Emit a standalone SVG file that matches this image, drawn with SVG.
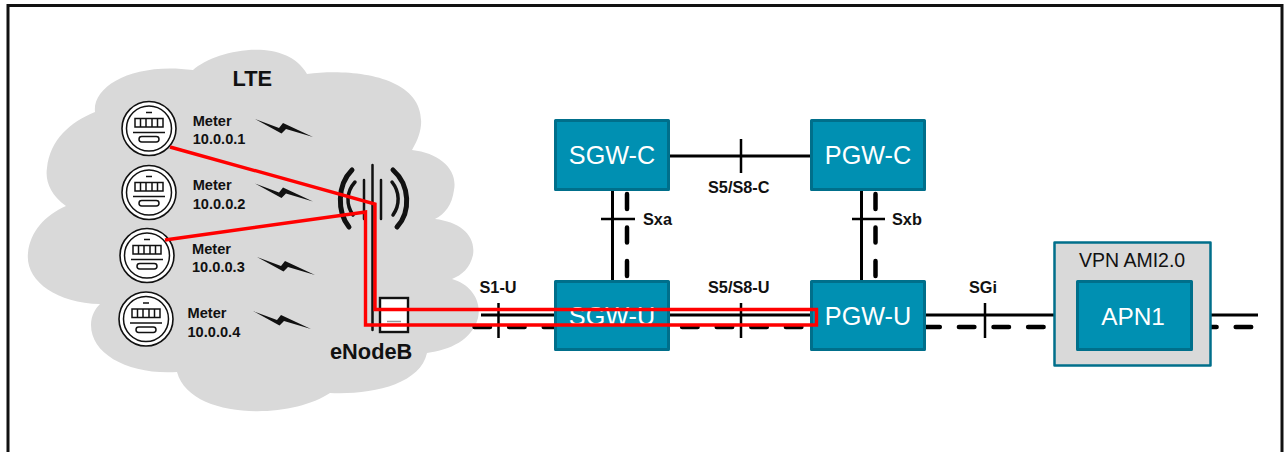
<svg xmlns="http://www.w3.org/2000/svg" xmlns:xlink="http://www.w3.org/1999/xlink" width="1286" height="452" viewBox="0 0 1286 452">
<style>
.b{font-family:"Liberation Sans",Arial,sans-serif;font-weight:700;fill:#111}
.m{font-size:14.6px}.l{font-size:16.300px}.h{font-size:21.800px}
.w{font-family:"Liberation Sans",Arial,sans-serif;font-size:25.200px;fill:#fff;text-anchor:middle}
.box{fill:#0090b2;stroke:#006f8b;stroke-width:3;stroke-linejoin:round}
.s{fill:none;stroke:#000;stroke-width:3}
.t{fill:none;stroke:#000;stroke-width:2.500}
.d{fill:none;stroke:#000;stroke-width:4.500;stroke-linecap:round}
.r{fill:none;stroke:#f00;stroke-width:3.400;stroke-linejoin:miter}
.k{fill:none;stroke:#111;stroke-width:1.500}
.a{fill:none;stroke:#111;stroke-linecap:round}
</style>
<defs>
<g id="meter">
<circle r="27" fill="#fff" stroke="#111" stroke-width="1.600"/>
<circle r="22.500" fill="#fff" stroke="#111" stroke-width="1.500"/>
<path class="k" d="M-3-16H3M-16 4H16M-8.500-10V-1.500M-3-10V-1.500M3-10V-1.500M8.500-10V-1.500"/>
<rect class="k" x="-14" y="-10" width="28" height="8.500"/>
<rect class="k" x="-10" y="8" width="20" height="5.500" rx="2.700"/>
</g>
<path id="bolt" d="M255 119L279 128L283 123L313 137L286 129L281.500 133.500Z" fill="#111"/>
</defs>
<rect x="8" y="5.500" width="1274" height="470" fill="#fff" stroke="#111" stroke-width="3"/>
<g id="cloud">
<path d="M193 70C215 50 285 35 307 74C350 68 425 75 421 125C420 135 416 143 412 150C440 153 458 170 454 190C452 205 445 214 435 219C460 222 476 235 473 255C470 268 462 275 452 279C470 284 482 300 478 318C472 340 450 350 427 353C420 385 370 395 330 393C290 420 190 420 177 372C130 375 91 355 91 325C91 315 96 308 100 304C55 303 25 280 28 253C30 232 45 215 66 206C50 195 45 180 47 168C50 140 70 122 95 112C92 85 135 62 193 70Z" fill="#d9d9d9"/>
<text class="b h" x="232.500" y="86">LTE</text>
</g>
<g id="connectors">
<path class="s" d="M481 315H1258M669 156H811M612.500 190V281M861.500 190V281"/>
<path class="d" d="M474.500 327H1252" stroke-dasharray="15.500 19.100"/>
<path class="d" d="M627 194V280" stroke-dasharray="15 18.500"/>
<path class="d" d="M875.500 194V280" stroke-dasharray="15 18.500"/>
<path class="t" d="M498.500 303V338M741 303V338M985 303V338M741 139V173M601 219H635M852 219H885"/>
</g>
<g id="meter1"><use href="#meter" x="149" y="128.500"/><use href="#bolt"/><text class="b m" x="192.700" y="126">Meter</text><text class="b m" x="192.700" y="144">10.0.0.1</text></g>
<g id="meter2"><use href="#meter" x="149" y="192.500"/><use href="#bolt" y="64.500"/><text class="b m" x="192.700" y="190">Meter</text><text class="b m" x="192.700" y="209">10.0.0.2</text></g>
<g id="meter3"><use href="#meter" x="147" y="255.500"/><use href="#bolt" x="2" y="138"/><text class="b m" x="192" y="254">Meter</text><text class="b m" x="192" y="272">10.0.0.3</text></g>
<g id="meter4"><use href="#meter" x="146" y="319"/><use href="#bolt" x="-2" y="192"/><text class="b m" x="187.500" y="318">Meter</text><text class="b m" x="187.500" y="337">10.0.0.4</text></g>
<g id="enodeb">
<path class="a" stroke-width="2.500" d="M372.500 165V330M364 180V219M381 180V219"/>
<path class="a" stroke-width="5" d="M352 170C337 185 337 212 349 227M393 170C410 185 411 212 397 227"/>
<path class="a" stroke-width="3.500" d="M355 182C346 192 346 205 353 215M392 182C400 192 400 205 393 215"/>
<rect x="380" y="298" width="28" height="34" fill="#fff" stroke="#111" stroke-width="2.400"/>
<path d="M387 321.500H401" stroke="#999" stroke-width="1.500"/>
<text class="b h" x="330" y="359">eNodeB</text>
</g>
<g id="sgw-c"><rect class="box" x="555.500" y="120.500" width="113" height="69"/><text class="w" x="612" y="164">SGW-C</text></g>
<g id="pgw-c"><rect class="box" x="811.500" y="120.500" width="113" height="69"/><text class="w" x="868" y="164">PGW-C</text></g>
<g id="sgw-u"><rect class="box" x="555.500" y="281.500" width="113" height="68"/><text class="w" x="612" y="324.500">SGW-U</text></g>
<g id="pgw-u"><rect class="box" x="811.500" y="281.500" width="113" height="68"/><text class="w" x="868" y="324.500">PGW-U</text></g>
<g id="vpn">
<rect x="1054.500" y="242.500" width="156" height="123" fill="#d9d9d9" stroke="#006f8b" stroke-width="2.500" stroke-linejoin="round"/>
<text x="1079" y="266.700" font-family="Liberation Sans, Arial, sans-serif" font-size="19.500" fill="#111">VPN AMI2.0</text>
<rect class="box" x="1077.500" y="281.500" width="114" height="68"/>
<text class="w" x="1133" y="325" style="font-size:24.400px">APN1</text>
</g>
<g id="labels">
<text class="b l" x="479.500" y="292.700">S1-U</text>
<text class="b l" x="708" y="292.700">S5/S8-U</text>
<text class="b l" x="708" y="192.700">S5/S8-C</text>
<text class="b l" x="969" y="292.700">SGi</text>
<text class="b l" x="643" y="225">Sxa</text>
<text class="b l" x="892" y="225">Sxb</text>
</g>
<g id="red-path">
<path class="r" d="M170 147L375 204V309.500H816.500V325H365.500V212L165 240"/>
</g>
</svg>
